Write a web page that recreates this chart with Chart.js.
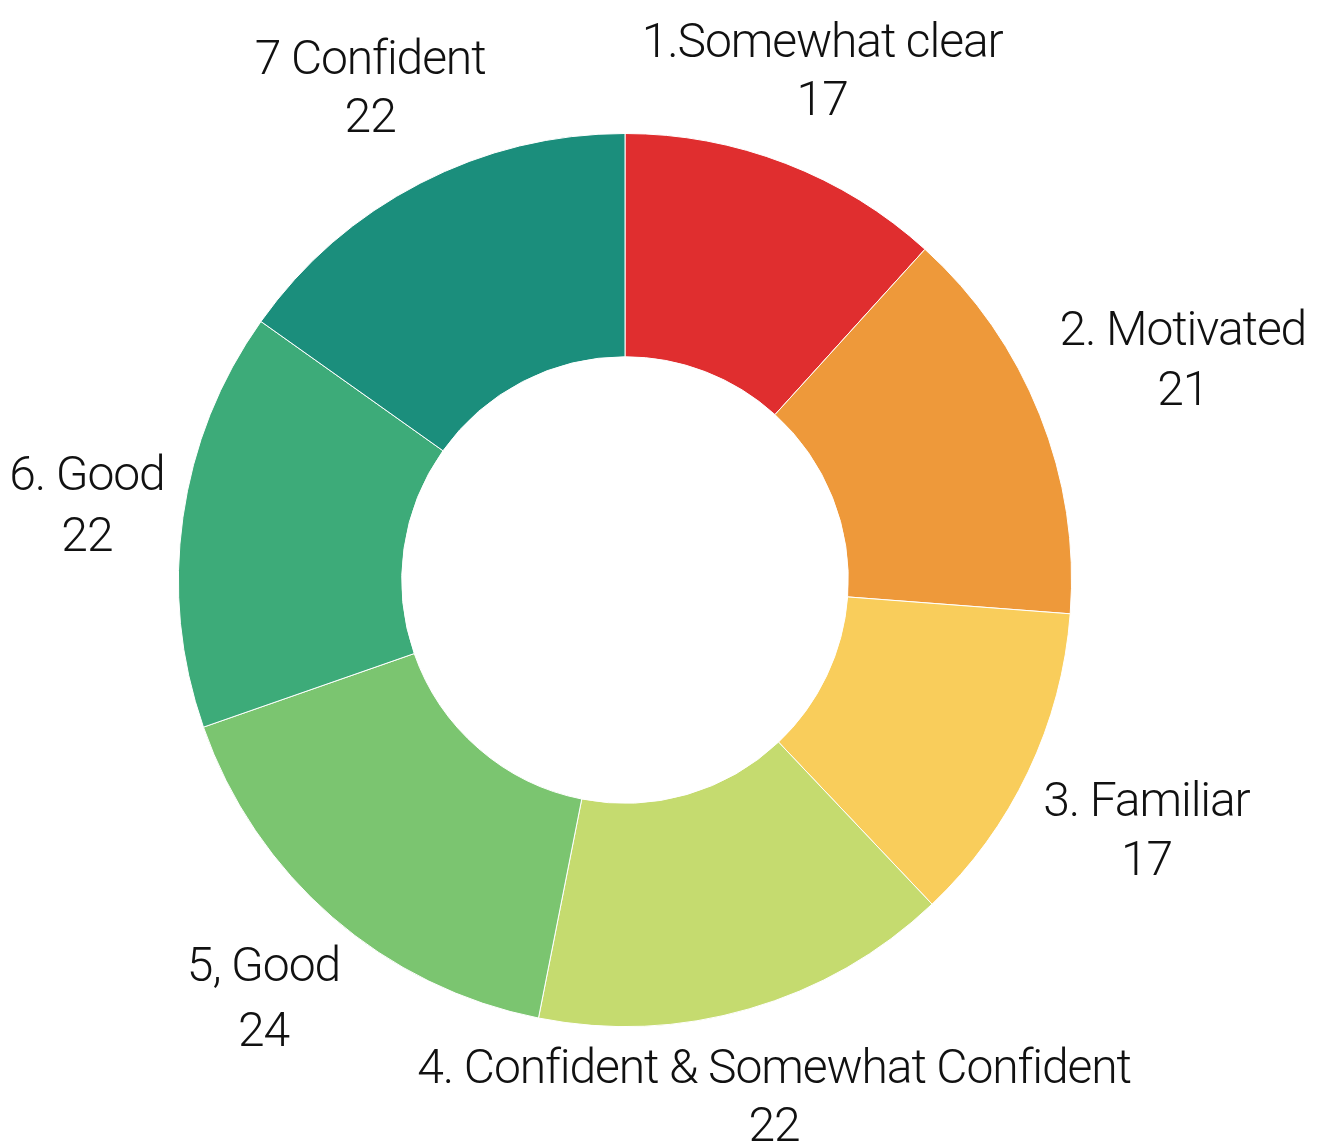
<!DOCTYPE html>
<html>
<head>
<meta charset="utf-8">
<script src="https://cdn.jsdelivr.net/npm/chart.js@4/dist/chart.umd.min.js"></script>
<style>
  html, body { margin: 0; padding: 0; background: #ffffff; }
  #wrap { position: relative; width: 1322px; height: 1145px; }
</style>
</head>
<body>
<div id="wrap"><canvas id="c" width="1322" height="1145"></canvas></div>
<script>
// ---- data ----
const categories = [
  "1.Somewhat clear",
  "2. Motivated",
  "3. Familiar",
  "4. Confident & Somewhat Confident",
  "5, Good",
  "6. Good",
  "7 Confident"
];
const values = [17, 21, 17, 22, 24, 22, 22];
const sliceColors = ["#E02E2F", "#EE993A", "#F9CD5B", "#C5DB6F", "#7BC570", "#3DAB79", "#1B8E7C"];

// label placement (distance beyond the outer edge, gap between the two lines)
const labelRadialOffset = [101, 154, 131, 90, 105, 97, 109];
const labelLineGap = [58, 60, 59, 58, 65, 61, 58];

const outsideLabels = {
  id: 'outsideLabels',
  afterDatasetsDraw(chart) {
    const ctx = chart.ctx;
    const meta = chart.getDatasetMeta(0);
    ctx.save();
    ctx.font = '300 48px Roboto, "Liberation Sans", sans-serif';
    try { ctx.letterSpacing = '-1.1px'; } catch (e) {}
    ctx.fillStyle = '#111111';
    ctx.textAlign = 'center';
    ctx.textBaseline = 'alphabetic';
    const capH = 34;
    meta.data.forEach((arc, i) => {
      const p = arc.getProps(['x', 'y', 'startAngle', 'endAngle', 'outerRadius'], true);
      const mid = (p.startAngle + p.endAngle) / 2;
      const r = p.outerRadius + labelRadialOffset[i];
      const cx = p.x + Math.cos(mid) * r;
      const cy = p.y + Math.sin(mid) * r;
      const gap = labelLineGap[i];
      ctx.fillText(categories[i], cx, cy - gap / 2 + capH / 2);
      ctx.fillText(String(values[i]), cx, cy + gap / 2 + capH / 2);
    });
    ctx.restore();
  }
};

new Chart(document.getElementById('c'), {
  type: 'doughnut',
  data: {
    labels: categories,
    datasets: [{
      data: values,
      backgroundColor: sliceColors,
      borderColor: '#ffffff',
      borderWidth: 1
    }]
  },
  options: {
    responsive: false,
    animation: false,
    cutout: '50%',
    layout: { padding: { left: 178, right: 250, top: 133, bottom: 118 } },
    plugins: {
      legend: { display: false },
      tooltip: { enabled: false }
    }
  },
  plugins: [outsideLabels]
});
</script>
</body>
</html>
